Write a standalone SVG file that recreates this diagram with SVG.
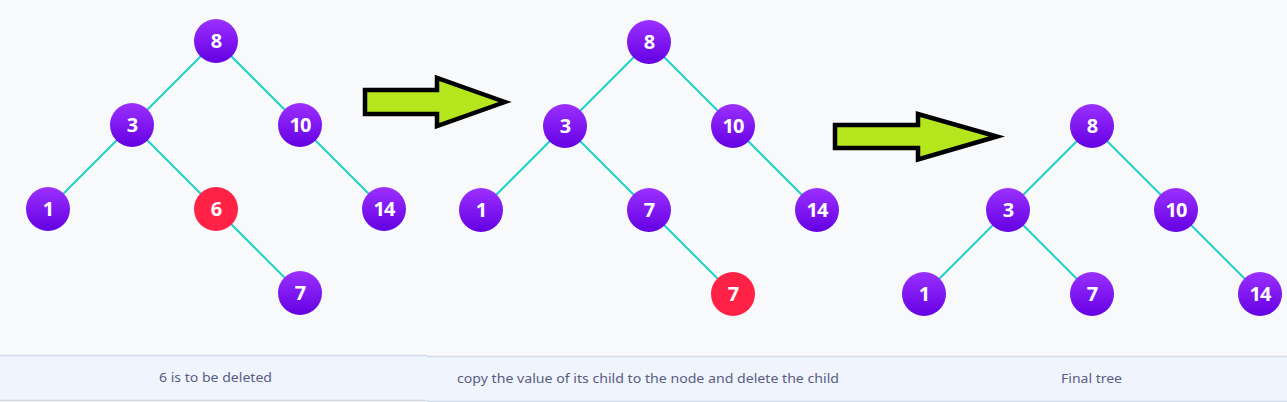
<svg xmlns="http://www.w3.org/2000/svg" width="1287" height="402" viewBox="0 0 1287 402">
<defs>
<linearGradient id="pg" x1="0" y1="0" x2="0" y2="1">
<stop offset="0" stop-color="#9b30ff"/>
<stop offset="1" stop-color="#6400e2"/>
</linearGradient>
<style>
.n circle{fill:url(#pg)}
.n.del circle{fill:#ff2146}
.n text{font-family:"Noto Sans","DejaVu Sans",sans-serif;font-weight:700;font-size:20px;fill:#fff;text-anchor:middle;letter-spacing:-1px}
.edges line{stroke:#1ed2c6;stroke-width:2}
.arrow{fill:#b5e61d;stroke:#000;stroke-width:4.5;stroke-linejoin:miter}
.band{fill:#eff4fd}
.bline{stroke:#d3dbe8;stroke-width:1.5}
.cap{font-family:"Noto Sans","DejaVu Sans",sans-serif;font-size:13px;fill:#5a5d82;text-anchor:middle}
</style>
</defs>
<rect width="1287" height="402" fill="#f8f9fb"/>
<g id="captions">
<rect class="band" x="0" y="356" width="427" height="44"/>
<rect class="band" x="427" y="357" width="860" height="44"/>
<line class="bline" x1="0" y1="355.5" x2="427" y2="355.5"/>
<line class="bline" x1="0" y1="400.5" x2="427" y2="400.5"/>
<line class="bline" x1="427" y1="356.5" x2="1287" y2="356.5"/>
<line class="bline" x1="427" y1="401.5" x2="1287" y2="401.5"/>
<text class="cap" x="215.5" y="382" textLength="113" lengthAdjust="spacingAndGlyphs">6 is to be deleted</text>
<text class="cap" x="648" y="383" textLength="382" lengthAdjust="spacingAndGlyphs">copy the value of its child to the node and delete the child</text>
<text class="cap" x="1091.5" y="383" textLength="61" lengthAdjust="spacingAndGlyphs">Final tree</text>
</g>
<g id="arrows">
<polygon id="arrow1" class="arrow" points="365,90 437,90 437,78 505,102 437,126 437,114 365,114"/>
<polygon id="arrow2" class="arrow" points="835,125 918,125 918,114 997,136.5 918,159.5 918,148 835,148"/>
</g>
<g id="connectors" class="edges">
<line x1="216" y1="41" x2="132" y2="125"/>
<line x1="216" y1="41" x2="300" y2="125"/>
<line x1="132" y1="125" x2="48" y2="209"/>
<line x1="132" y1="125" x2="216" y2="209"/>
<line x1="300" y1="125" x2="384" y2="209"/>
<line x1="216" y1="209" x2="300" y2="293"/>
<line x1="649" y1="42" x2="565" y2="126"/>
<line x1="649" y1="42" x2="733" y2="126"/>
<line x1="565" y1="126" x2="481" y2="210"/>
<line x1="565" y1="126" x2="649" y2="210"/>
<line x1="733" y1="126" x2="817" y2="210"/>
<line x1="649" y1="210" x2="733" y2="294"/>
<line x1="1092" y1="126" x2="1008" y2="210"/>
<line x1="1092" y1="126" x2="1176" y2="210"/>
<line x1="1008" y1="210" x2="924" y2="294"/>
<line x1="1008" y1="210" x2="1092" y2="294"/>
<line x1="1176" y1="210" x2="1260" y2="294"/>
</g>
<g id="t1-8" class="n"><circle cx="216" cy="41" r="22"/><text x="216" y="48">8</text></g>
<g id="t1-3" class="n"><circle cx="132" cy="125" r="22"/><text x="132" y="132">3</text></g>
<g id="t1-10" class="n"><circle cx="300" cy="125" r="22"/><text x="300" y="132">10</text></g>
<g id="t1-1" class="n"><circle cx="48" cy="209" r="22"/><text x="48" y="216">1</text></g>
<g id="t1-6" class="n del"><circle cx="216" cy="209" r="22"/><text x="216" y="216">6</text></g>
<g id="t1-14" class="n"><circle cx="384" cy="209" r="22"/><text x="384" y="216">14</text></g>
<g id="t1-7" class="n"><circle cx="300" cy="293" r="22"/><text x="300" y="300">7</text></g>
<g id="t2-8" class="n"><circle cx="649" cy="42" r="22"/><text x="649" y="49">8</text></g>
<g id="t2-3" class="n"><circle cx="565" cy="126" r="22"/><text x="565" y="133">3</text></g>
<g id="t2-10" class="n"><circle cx="733" cy="126" r="22"/><text x="733" y="133">10</text></g>
<g id="t2-1" class="n"><circle cx="481" cy="210" r="22"/><text x="481" y="217">1</text></g>
<g id="t2-7" class="n"><circle cx="649" cy="210" r="22"/><text x="649" y="217">7</text></g>
<g id="t2-14" class="n"><circle cx="817" cy="210" r="22"/><text x="817" y="217">14</text></g>
<g id="t2-7b" class="n del"><circle cx="733" cy="294" r="22"/><text x="733" y="301">7</text></g>
<g id="t3-8" class="n"><circle cx="1092" cy="126" r="22"/><text x="1092" y="133">8</text></g>
<g id="t3-3" class="n"><circle cx="1008" cy="210" r="22"/><text x="1008" y="217">3</text></g>
<g id="t3-10" class="n"><circle cx="1176" cy="210" r="22"/><text x="1176" y="217">10</text></g>
<g id="t3-1" class="n"><circle cx="924" cy="294" r="22"/><text x="924" y="301">1</text></g>
<g id="t3-7" class="n"><circle cx="1092" cy="294" r="22"/><text x="1092" y="301">7</text></g>
<g id="t3-14" class="n"><circle cx="1260" cy="294" r="22"/><text x="1260" y="301">14</text></g>
</svg>
